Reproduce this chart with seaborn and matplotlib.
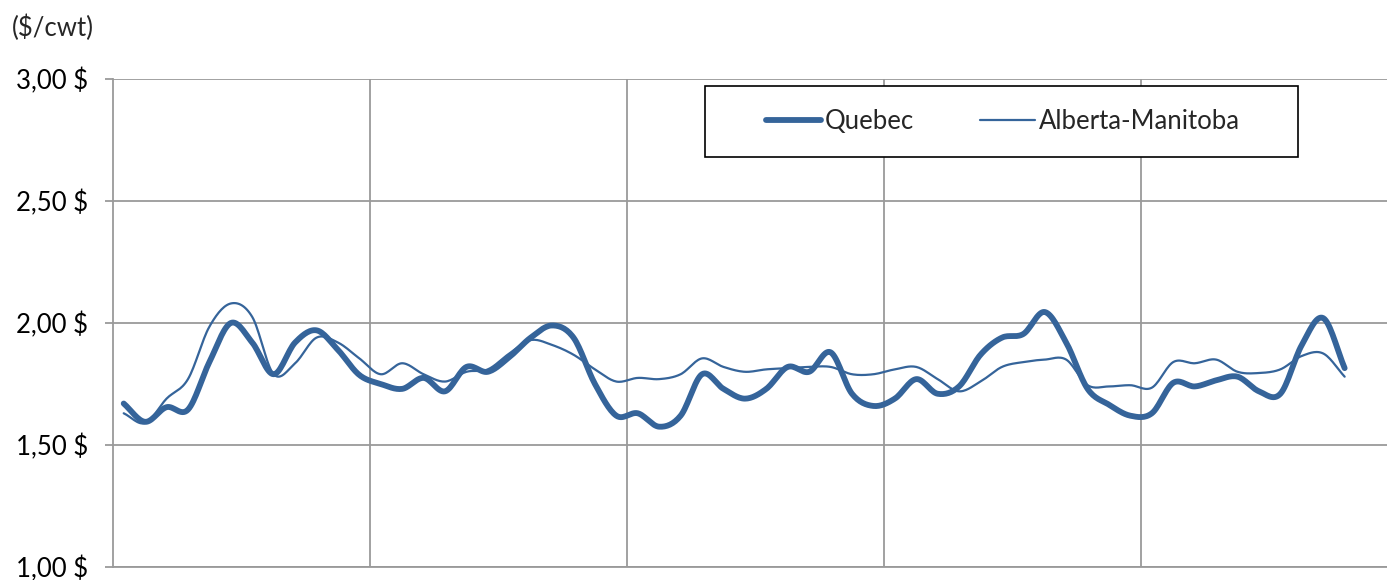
import numpy as np
import pandas as pd
import matplotlib
matplotlib.use("Agg")
import matplotlib.pyplot as plt
import seaborn as sns
from matplotlib.patches import Rectangle
from matplotlib.ticker import FuncFormatter, FixedLocator

# ---- data (monthly, $/cwt) ----
months = list(range(58))
quebec = [1.67, 1.595, 1.655, 1.645, 1.84, 2.00, 1.92, 1.79, 1.92, 1.97, 1.89, 1.787,
          1.75, 1.73, 1.775, 1.72, 1.82, 1.80, 1.86, 1.94, 1.99, 1.94, 1.75, 1.62,
          1.63, 1.575, 1.62, 1.79, 1.73, 1.69, 1.73, 1.82, 1.80, 1.88, 1.71, 1.66,
          1.69, 1.77, 1.71, 1.74, 1.87, 1.94, 1.955, 2.045, 1.92, 1.73, 1.665, 1.62,
          1.63, 1.755, 1.74, 1.765, 1.78, 1.72, 1.71, 1.91, 2.02, 1.815]
alberta = [1.63, 1.59, 1.69, 1.77, 1.985, 2.08, 2.025, 1.79, 1.835, 1.94, 1.92, 1.855,
           1.79, 1.835, 1.79, 1.76, 1.80, 1.81, 1.875, 1.93, 1.91, 1.87, 1.81, 1.76,
           1.775, 1.77, 1.79, 1.855, 1.82, 1.80, 1.81, 1.815, 1.82, 1.82, 1.79, 1.79,
           1.81, 1.82, 1.77, 1.72, 1.76, 1.82, 1.84, 1.85, 1.85, 1.745, 1.74, 1.745,
           1.735, 1.84, 1.835, 1.85, 1.80, 1.795, 1.81, 1.865, 1.875, 1.78]
series_names = ["Quebec", "Alberta-Manitoba"]
y_ticks = [1.0, 1.5, 2.0, 2.5, 3.0]
unit_label = "($/cwt)"


def smooth(x, y, n=16):
    """Catmull-Rom rendering of a line (like a spreadsheet 'smoothed line')."""
    x = np.asarray(x, float)
    y = np.asarray(y, float)
    px = np.concatenate([[2 * x[0] - x[1]], x, [2 * x[-1] - x[-2]]])
    py = np.concatenate([[2 * y[0] - y[1]], y, [2 * y[-1] - y[-2]]])
    xs, ys = [], []
    for i in range(1, len(px) - 2):
        t = np.linspace(0, 1, n, endpoint=False)
        for p, out in ((px, xs), (py, ys)):
            p0, p1, p2, p3 = p[i - 1], p[i], p[i + 1], p[i + 2]
            out.extend(0.5 * ((2 * p1) + (-p0 + p2) * t +
                              (2 * p0 - 5 * p1 + 4 * p2 - p3) * t ** 2 +
                              (-p0 + 3 * p1 - 3 * p2 + p3) * t ** 3))
    xs.append(x[-1])
    ys.append(y[-1])
    return np.array(xs), np.array(ys)


frames = []
for name, vals in zip(series_names, [quebec, alberta]):
    sx, sy = smooth(months, vals)
    frames.append(pd.DataFrame({"x": sx, "y": sy, "series": name}))
df = pd.concat(frames, ignore_index=True)

sns.set_theme(style="white")
plt.rcParams["font.family"] = ["Lato", "DejaVu Sans"]

W, H = 1387, 580
fig = plt.figure(figsize=(W / 100, H / 100), dpi=100)
ax = fig.add_axes([113 / W, 1 - 567 / H, 1 - 113 / W, (567 - 79) / H])

color = "#35649A"
sns.lineplot(data=df, x="x", y="y", hue="series", size="series",
             sizes={"Quebec": 4.2, "Alberta-Manitoba": 1.6},
             palette={"Quebec": color, "Alberta-Manitoba": color},
             sort=False, estimator=None, ax=ax, legend=False, zorder=3)

grid_c = "#9a9a9a"
FS = 18.5
ax.set_xlim(-0.5, -0.5 + (W - 113) / 21.42)
ax.set_ylim(1.0, 3.0)
ax.yaxis.set_major_locator(FixedLocator(y_ticks))
ax.yaxis.set_major_formatter(FuncFormatter(lambda v, p: f"{v:.2f}".replace(".", ",") + " $"))
ax.xaxis.set_major_locator(FixedLocator([11.5, 23.5, 35.5, 47.5]))
ax.set_xticklabels([])
ax.grid(True, color=grid_c, linewidth=1.3, zorder=0)
ax.set_axisbelow(True)
for s in ["top", "right"]:
    ax.spines[s].set_visible(False)
for s in ["left", "bottom"]:
    ax.spines[s].set_color(grid_c)
    ax.spines[s].set_linewidth(1.3)
ax.tick_params(axis="y", length=6, width=1.3, color=grid_c, pad=12,
               labelsize=FS, labelcolor="black", left=True)
ax.tick_params(axis="x", length=0)
ax.set_xlabel("")
ax.set_ylabel("")

# legend box
x0 = (705 - 113) / (W - 113)
x1 = (1298 - 113) / (W - 113)
y0 = (567 - 157) / 488
y1 = (567 - 86) / 488
ax.add_patch(Rectangle((x0, y0), x1 - x0, y1 - y0, transform=ax.transAxes,
                       facecolor="white", edgecolor="black", linewidth=1.2,
                       zorder=5, clip_on=False))
handles = [plt.Line2D([], [], color=color, lw=4.2, solid_capstyle="round"),
           plt.Line2D([], [], color=color, lw=1.6)]
leg = ax.legend(handles, series_names, loc="center", ncol=2, frameon=False,
                bbox_to_anchor=((x0 + x1) / 2 + 0.001, (y0 + y1) / 2),
                fontsize=FS, handlelength=2.15, handletextpad=0.15,
                columnspacing=2.55)
leg.set_zorder(6)

fig.text(12 / W, 1 - 28 / H, unit_label, fontsize=FS, va="center", ha="left")

fig.savefig("out.png", dpi=100)
